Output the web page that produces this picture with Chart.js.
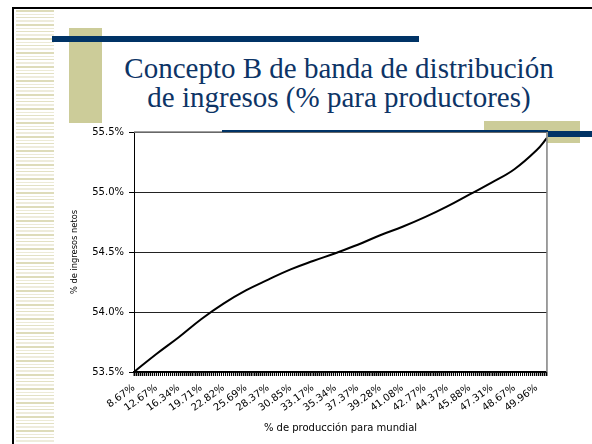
<!DOCTYPE html>
<html>
<head>
<meta charset="utf-8">
<script src="https://cdn.jsdelivr.net/npm/chart.js@4/dist/chart.umd.min.js"></script>
<style>
  html, body { margin: 0; padding: 0; background: #fff; }
  #slide { position: relative; width: 592px; height: 444px; overflow: hidden; background: #fff; }
  .deco { position: absolute; }
  .title { position: absolute; left: 339px; transform: translateX(-50%); white-space: nowrap;
           font-family: "Liberation Serif", "Times New Roman", serif; font-size: 29px; line-height: 29px; color: #0d3466; }
  #chartBox { position: absolute; left: 66px; top: 120px; width: 494px; height: 324px; }
</style>
</head>
<body>
<div id="slide">
  <div class="deco" style="left:12px;top:7px;width:580px;height:2px;background:#000"></div>
  <div class="deco" style="left:12px;top:7px;width:2px;height:437px;background:#000"></div>
  <div class="deco" style="left:16px;top:10px;width:38px;height:434px;
       background:repeating-linear-gradient(to bottom,#dedcba 0 2px,#fff 2px 4px,#ecead6 4px 5px,#fff 5px 7px,#e3e1c4 7px 8px,#fff 8px 10px,#eeecdc 10px 12px,#fff 12px 14px)"></div>
  <div class="deco" style="left:69px;top:28px;width:33px;height:95px;background:#cccc99"></div>
  <div class="deco" style="left:52px;top:36px;width:367px;height:6px;background:#003366"></div>
  <div class="title" style="top:54px">Concepto B de banda de distribución</div>
  <div class="title" style="top:83px">de ingresos (% para productores)</div>
  <div class="deco" style="left:484px;top:121px;width:96px;height:22px;background:#cccc99"></div>
  <div id="chartBox"><canvas id="chart" width="494" height="324"></canvas></div>
  <div class="deco" style="left:222px;top:130px;width:326px;height:2px;background:#003366"></div>
  <div class="deco" style="left:548px;top:131px;width:44px;height:6px;background:#003366"></div>
</div>
<script>
// category labels shown under the axis (one every 11 categories)
const xLabels = ["8.67%", "12.67%", "16.34%", "19.71%", "22.82%", "25.69%", "28.37%", "30.85%", "33.17%", "35.34%",
                 "37.37%", "39.28%", "41.08%", "42.77%", "44.37%", "45.88%", "47.31%", "48.67%", "49.96%"];
const labelEvery = 11;
const lastIndex = 203;
// category index where each value was read, and the value (% de ingresos netos)
const categoryIndex = [0, 11, 22, 33, 44, 55, 66, 77, 88, 99, 110, 121, 132, 143, 154, 165, 176, 187, 198, 203];
const incomeShare = [53.50, 53.65, 53.79, 53.94, 54.07, 54.18, 54.27, 54.355, 54.425, 54.49,
                     54.56, 54.64, 54.71, 54.79, 54.88, 54.98, 55.08, 55.19, 55.35, 55.45];
const yTicks = { min: 53.5, max: 55.5, step: 0.5 };

const sans = "'DejaVu Sans', 'Liberation Sans', Arial, sans-serif";

const plotFrame = {
    id: "plotFrame",
    beforeDraw(chart) {
        const a = chart.chartArea, ctx = chart.ctx;
        ctx.save();
        ctx.fillStyle = "#fff";
        ctx.fillRect(a.left, a.top, a.right - a.left, a.bottom - a.top);
        ctx.restore();
    },
    afterDraw(chart) {
        const a = chart.chartArea, ctx = chart.ctx;
        const xs = chart.scales.x, ys = chart.scales.y;
        ctx.save();
        ctx.strokeStyle = "#808080";
        ctx.lineWidth = 1.5;
        ctx.beginPath();
        ctx.moveTo(a.left, a.top);
        ctx.lineTo(a.right, a.top);
        ctx.lineTo(a.right, a.bottom);
        ctx.stroke();
        // tick marks, one per category and one per y step
        ctx.strokeStyle = "#000";
        ctx.lineWidth = 1;
        ctx.beginPath();
        for (let i = 0; i <= lastIndex; i++) {
            const x = xs.getPixelForValue(i);
            ctx.moveTo(x, a.bottom);
            ctx.lineTo(x, a.bottom + 4);
        }
        ctx.stroke();
        ctx.beginPath();
        for (let v = yTicks.min; v <= yTicks.max + 1e-9; v += yTicks.step) {
            const y = Math.round(ys.getPixelForValue(v)) + 0.5;
            ctx.moveTo(a.left - 5, y);
            ctx.lineTo(a.left, y);
        }
        ctx.stroke();
        ctx.restore();
    }
};

new Chart(document.getElementById("chart"), {
    type: "line",
    data: {
        datasets: [{
            data: categoryIndex.map((x, i) => ({ x: x, y: incomeShare[i] })),
            borderColor: "#000",
            borderWidth: 2,
            pointRadius: 0,
            fill: false,
            tension: 0.4
        }]
    },
    options: {
        responsive: false,
        animation: false,
        layout: { padding: { top: 12, right: 12, bottom: 6, left: 0 } },
        plugins: { legend: { display: false }, tooltip: { enabled: false } },
        scales: {
            x: {
                type: "linear",
                min: 0,
                max: lastIndex,
                afterFit: s => { s.height = 66; },
                grid: { drawOnChartArea: false, drawTicks: true, tickLength: 4, color: "#000" },
                border: { color: "#000", width: 1.5 },
                ticks: {
                    stepSize: 1,
                    autoSkip: false,
                    minRotation: 36,
                    maxRotation: 36,
                    padding: 6,
                    color: "#000",
                    font: { family: sans, size: 10 },
                    callback: v => {
                        const n = Math.round(v);
                        return n % labelEvery === 0 && xLabels[n / labelEvery] ? xLabels[n / labelEvery] : "";
                    }
                },
                title: { display: true, text: "% de producción para mundial", color: "#000", font: { family: sans, size: 10 } }
            },
            y: {
                min: yTicks.min,
                max: yTicks.max,
                afterFit: s => { s.width = 68; },
                grid: { color: "#222", tickLength: 5 },
                border: { color: "#000", width: 1 },
                ticks: {
                    stepSize: yTicks.step,
                    padding: 5,
                    color: "#000",
                    font: { family: sans, size: 10 },
                    callback: v => v.toFixed(1) + "%"
                },
                title: { display: true, text: "% de ingresos netos", color: "#000", padding: 4, font: { family: sans, size: 8.3 } }
            }
        }
    },
    plugins: [plotFrame]
});
</script>
</body>
</html>
